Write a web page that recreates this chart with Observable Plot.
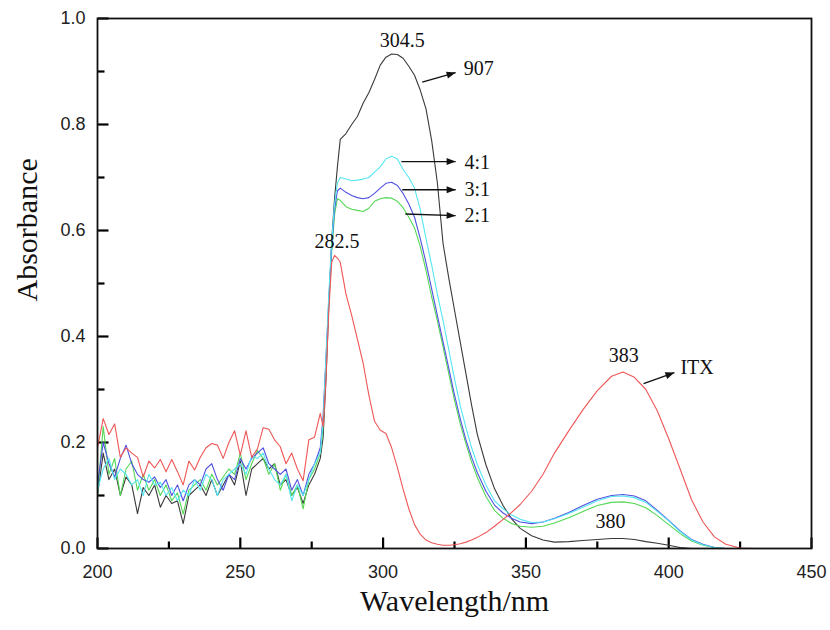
<!DOCTYPE html>
<html><head><meta charset="utf-8">
<script src="https://cdn.jsdelivr.net/npm/d3@7"></script>
<script src="https://cdn.jsdelivr.net/npm/@observablehq/plot@0.6"></script>
<style>body{margin:0;background:#fff}</style>
</head><body><div id="chart"></div>
<script>
// Wavelength grid (nm)
const wavelength = [
  200,202,204,206,208,210,212,214,216,218,220,222,224,226,228,230,232,234,236,238,
  240,242,244,246,248,250,252,254,256,258,260,262,264,266,268,270,272,274,276,278,
  279,280,281,282,283,284,285,
  287,289,291,293,295,297,299,301,303,305,307,309,311,313,315,317,319,321,323,325,327,329,331,333,
  336,339,342,345,348,352,356,360,365,370,375,380,
  384,388,392,396,400,404,408,412,416,420,425,430,440,450
];
// ITX (red)
const absITX = [
  0.19,0.245,0.215,0.235,0.172,0.19,0.18,0.172,0.135,0.165,0.152,0.168,0.145,0.168,0.145,0.12,0.165,0.148,0.172,0.19,
  0.198,0.195,0.17,0.20,0.222,0.176,0.222,0.172,0.188,0.228,0.225,0.205,0.192,0.16,0.18,0.15,0.128,0.205,0.21,0.255,
  0.23,0.32,0.45,0.54,0.553,0.548,0.54,
  0.48,0.44,0.395,0.35,0.29,0.24,0.223,0.217,0.19,0.153,0.112,0.075,0.045,0.027,0.016,0.011,0.008,0.006,0.006,0.007,0.009,0.012,0.016,0.021,
  0.03,0.042,0.055,0.068,0.083,0.108,0.14,0.18,0.222,0.262,0.298,0.325,
  0.333,0.323,0.30,0.26,0.207,0.15,0.092,0.05,0.022,0.008,0.001,0,0,0
];
// 907 (black)
const abs907 = [
  0.10,0.18,0.13,0.15,0.10,0.135,0.12,0.066,0.115,0.10,0.12,0.078,0.10,0.085,0.09,0.047,0.10,0.11,0.12,0.10,
  0.13,0.10,0.12,0.14,0.12,0.165,0.10,0.15,0.16,0.17,0.15,0.16,0.12,0.13,0.10,0.115,0.085,0.12,0.14,0.17,
  0.21,0.32,0.46,0.58,0.66,0.72,0.772,
  0.783,0.80,0.815,0.84,0.86,0.885,0.912,0.927,0.933,0.932,0.925,0.91,0.893,0.865,0.83,0.77,0.69,0.575,0.51,0.45,0.39,0.33,0.27,0.215,
  0.158,0.113,0.081,0.056,0.038,0.024,0.016,0.012,0.013,0.015,0.017,0.019,
  0.019,0.017,0.013,0.01,0.006,0.002,0,0,0,0,0,0,0,0
];
// 4:1 (cyan)
const abs41 = [
  0.11,0.15,0.17,0.13,0.15,0.14,0.12,0.13,0.10,0.14,0.12,0.125,0.10,0.115,0.09,0.11,0.10,0.13,0.11,0.14,
  0.13,0.10,0.13,0.14,0.15,0.16,0.14,0.175,0.17,0.18,0.15,0.13,0.12,0.14,0.09,0.12,0.10,0.13,0.16,0.18,
  0.24,0.36,0.48,0.58,0.65,0.69,0.70,
  0.697,0.694,0.695,0.697,0.70,0.71,0.72,0.735,0.74,0.735,0.715,0.70,0.68,0.64,0.585,0.535,0.48,0.43,0.375,0.32,0.27,0.228,0.19,0.158,
  0.12,0.09,0.075,0.063,0.055,0.049,0.05,0.056,0.066,0.078,0.09,0.098,
  0.099,0.096,0.087,0.07,0.052,0.032,0.016,0.007,0.002,0,0,0,0,0
];
// 3:1 (blue)
const abs31 = [
  0.12,0.20,0.16,0.135,0.17,0.195,0.16,0.14,0.13,0.125,0.135,0.115,0.13,0.10,0.12,0.09,0.12,0.13,0.12,0.15,
  0.16,0.13,0.11,0.14,0.13,0.17,0.15,0.17,0.18,0.19,0.16,0.15,0.14,0.15,0.11,0.13,0.10,0.14,0.16,0.19,
  0.25,0.36,0.47,0.57,0.64,0.675,0.68,
  0.672,0.666,0.662,0.66,0.662,0.67,0.68,0.689,0.691,0.685,0.67,0.65,0.625,0.585,0.54,0.49,0.44,0.39,0.34,0.29,0.245,0.205,0.172,0.143,
  0.108,0.082,0.067,0.057,0.05,0.047,0.05,0.057,0.068,0.081,0.093,0.10,
  0.102,0.099,0.09,0.072,0.053,0.033,0.017,0.008,0.002,0,0,0,0,0
];
// 2:1 (green)
const abs21 = [
  0.10,0.23,0.14,0.17,0.10,0.15,0.165,0.11,0.14,0.11,0.13,0.10,0.12,0.09,0.105,0.065,0.11,0.12,0.13,0.11,
  0.14,0.12,0.135,0.15,0.14,0.18,0.13,0.16,0.185,0.17,0.14,0.16,0.11,0.14,0.10,0.12,0.075,0.13,0.15,0.18,
  0.23,0.35,0.46,0.56,0.63,0.66,0.657,
  0.645,0.64,0.638,0.636,0.642,0.655,0.66,0.662,0.661,0.655,0.643,0.625,0.605,0.57,0.525,0.475,0.43,0.38,0.33,0.28,0.235,0.198,0.163,0.134,
  0.098,0.072,0.057,0.047,0.042,0.04,0.042,0.048,0.058,0.07,0.081,0.087,
  0.088,0.085,0.077,0.062,0.045,0.028,0.014,0.006,0.002,0,0,0,0,0
];

const seriesNames = ["907", "2:1", "3:1", "4:1", "ITX"];
const seriesValues = [abs907, abs21, abs31, abs41, absITX];
const seriesColors = ["#3a3a3a", "#55d855", "#5050e0", "#55e6f2", "#ef5656"];

const xTicks = [200, 250, 300, 350, 400, 450];
const xMinor = [225, 275, 325, 375, 425];
const yTicks = [0, 0.2, 0.4, 0.6, 0.8, 1.0];
const yMinor = [0.1, 0.3, 0.5, 0.7, 0.9];

// Annotations
const peakLabels = ["304.5", "282.5", "383", "380"];
const peakX = [306.7, 283.9, 384.3, 379.6];
const peakY = [0.958, 0.580, 0.364, 0.050];
const nameLabels = ["907", "4:1", "3:1", "2:1", "ITX"];
const nameX = [328.2, 328.5, 328.5, 328.5, 404.1];
const nameY = [0.905, 0.729, 0.677, 0.628, 0.341];
const arrowX1 = [313.7, 306.4, 306.7, 307.8, 391.2];
const arrowY1 = [0.880, 0.730, 0.677, 0.631, 0.311];
const arrowX2 = [325.4, 325.4, 325.4, 325.4, 402.0];
const arrowY2 = [0.898, 0.730, 0.677, 0.628, 0.332];

const sans = "'Liberation Sans', Arial, sans-serif";
const serif = "'Liberation Serif', 'Times New Roman', serif";

const lineMarks = seriesValues.map((vals, k) =>
  Plot.line(wavelength.map((x, i) => ({x, y: vals[i], s: seriesNames[k]})),
    {x: "x", y: "y", stroke: seriesColors[k], strokeWidth: 1.1})
);

const peaks = peakLabels.map((t, i) => ({t, x: peakX[i], y: peakY[i]}));
const names = nameLabels.map((t, i) => ({t, x: nameX[i], y: nameY[i]}));
const arrows = arrowX1.map((x1, i) => ({x1, y1: arrowY1[i], x2: arrowX2[i], y2: arrowY2[i]}));

// approximate screen direction (deg clockwise from up) for arrow heads
const pxPerNm = 714 / 250, pxPerAbs = 530;
const headAngle = d => Math.atan2((d.x2 - d.x1) * pxPerNm, (d.y2 - d.y1) * pxPerAbs) * 180 / Math.PI;

// inward tick symbols
const vTick = len => ({draw(ctx) { ctx.moveTo(0, 0); ctx.lineTo(0, -len); }});
const hTick = len => ({draw(ctx) { ctx.moveTo(0, 0); ctx.lineTo(len, 0); }});

const chart = Plot.plot({
  width: 830, height: 630,
  marginLeft: 97, marginRight: 19, marginTop: 18, marginBottom: 82,
  x: {domain: [200, 450], label: null},
  y: {domain: [0, 1], label: null},
  style: {background: "white", fontFamily: sans},
  marks: [
    // inward ticks
    Plot.dot(xTicks, {x: d => d, frameAnchor: "bottom", symbol: vTick(11), stroke: "#000", strokeWidth: 2.2}),
    Plot.dot(xMinor, {x: d => d, frameAnchor: "bottom", symbol: vTick(7), stroke: "#000", strokeWidth: 2.2}),
    Plot.dot(yTicks, {y: d => d, frameAnchor: "left", symbol: hTick(11), stroke: "#000", strokeWidth: 2.2}),
    Plot.dot(yMinor, {y: d => d, frameAnchor: "left", symbol: hTick(7), stroke: "#000", strokeWidth: 2.2}),
    ...lineMarks,
    // tick labels
    Plot.axisX(xTicks, {tickSize: 0, tickPadding: 17, fontSize: 18, fontFamily: sans, fill: "#222", tickFormat: d => String(d), label: null}),
    Plot.axisY(yTicks, {tickSize: 0, tickPadding: 12, fontSize: 18, fontFamily: sans, fill: "#222", tickFormat: d3.format(".1f"), label: null}),
    Plot.frame({stroke: "#111", strokeWidth: 1.8}),
    Plot.text(["Wavelength/nm"], {text: d => d, frameAnchor: "bottom", dy: 62, fontSize: 30, fontFamily: serif, fill: "#111"}),
    Plot.text(["Absorbance"], {text: d => d, frameAnchor: "left", dx: -70, dy: 18, rotate: -90, fontSize: 30, fontFamily: serif, fill: "#111"}),
    Plot.text(peaks, {x: "x", y: "y", text: "t", fontSize: 20, fontFamily: serif, fill: "#111", textAnchor: "middle"}),
    Plot.text(names, {x: "x", y: "y", text: "t", fontSize: 20, fontFamily: serif, fill: "#111", textAnchor: "start"}),
    Plot.link(arrows, {x1: "x1", y1: "y1", x2: "x2", y2: "y2", stroke: "#111", strokeWidth: 1.4}),
    Plot.vector(arrows, {x: "x2", y: "y2", rotate: headAngle, length: 9, r: 3.5, shape: "spike", anchor: "end", fill: "#111", stroke: "none"})
  ]
});
document.getElementById("chart").appendChild(chart);
</script>
</body></html>
